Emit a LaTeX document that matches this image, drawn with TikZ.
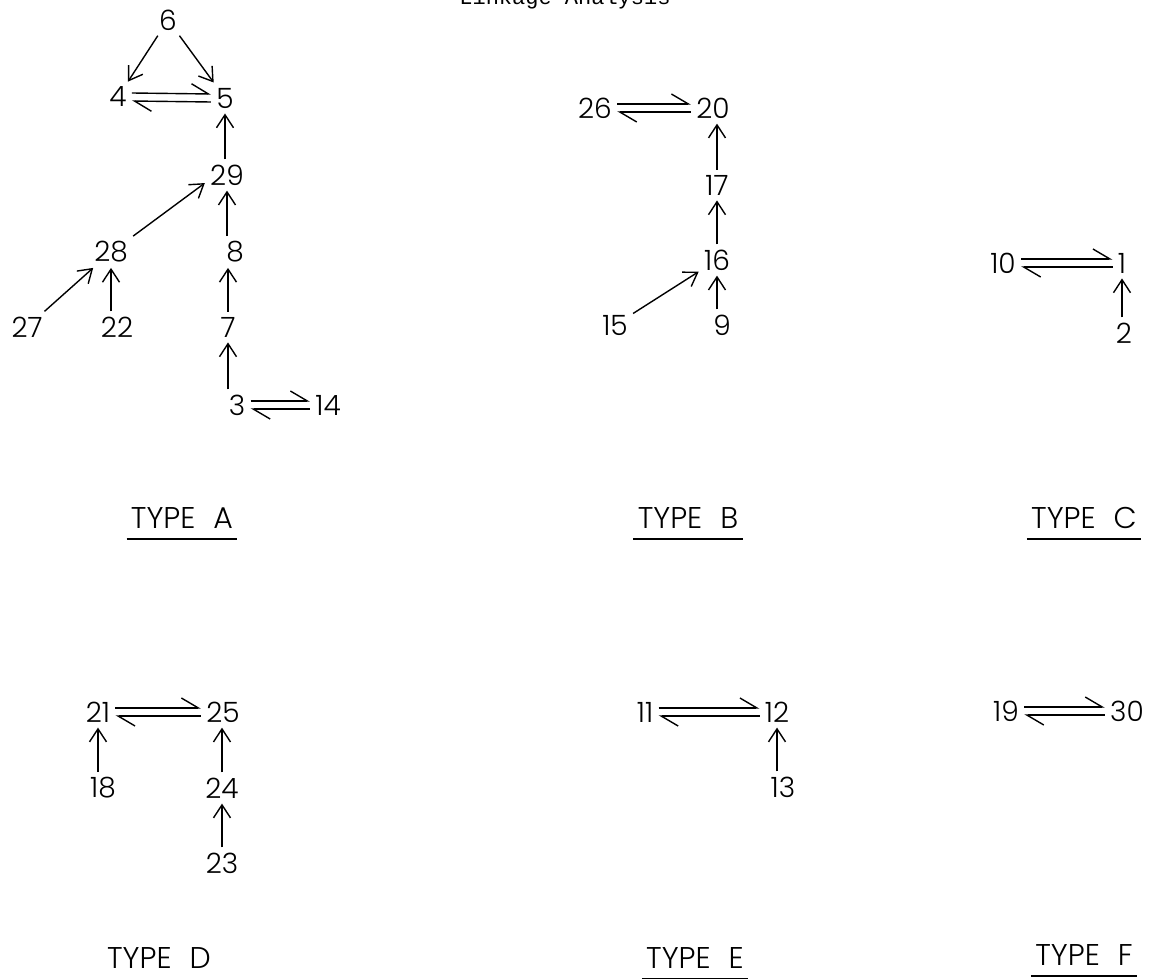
\documentclass[tikz,border=0pt]{standalone}
\usepackage{fontspec}
\setmainfont{Poppins Light}
\newfontfamily\titlefont{Liberation Mono}
\usepackage{tikz}
\usetikzlibrary{arrows.meta}
\tikzset{
  num/.style={inner sep=2.5pt, font=\fontsize{14}{16}\selectfont},
  typelabel/.style={inner xsep=2pt, inner ysep=1pt, font=\fontsize{15}{17}\selectfont},
  wire/.style={-{Straight Barb[length=6.5pt,width=8.5pt]}, line width=0.7pt},
  harpoon/.style={-{Straight Barb[left,length=8.5pt,width=10pt]}, line width=0.7pt},
  underline/.style={line width=0.8pt}
}
% two half arrows between a pair of nodes
\newcommand{\equil}[2]{%
  \draw[harpoon] ([yshift=2pt]#1.east) -- ([yshift=2pt]#2.west);
  \draw[harpoon] ([yshift=-2pt]#2.west) -- ([yshift=-2pt]#1.east);
}
\newcommand{\typename}[1]{TYPE\hspace{9pt}#1}

\begin{document}
\begin{tikzpicture}[x=0.5pt,y=-0.5pt]
  \useasboundingbox (0,0) rectangle (1158,979);
  \begin{scope}
    \clip (0,0) rectangle (1158,979);
    \node[anchor=base, font=\titlefont\fontsize{11}{13}\selectfont] (title) at (565,5) {Linkage Analysis};
  \end{scope}

  % type A
  \node[num] (n6) at (168,20) {6};
  \node[num] (n4) at (118,97) {4};
  \node[num] (n5) at (225,98) {5};
  \node[num] (n29) at (227,175) {29};
  \node[num] (n28) at (111,252) {28};
  \node[num] (n8) at (235,252) {8};
  \node[num] (n27) at (27,327) {27};
  \node[num] (n22) at (117,327) {22};
  \node[num] (n7) at (228,327) {7};
  \node[num] (n3) at (237,405) {3};
  \node[num] (n14) at (328,405) {14};
  \draw[wire] (n6) -- (n4);
  \draw[wire] (n6) -- (n5);
  \equil{n4}{n5}
  \draw[wire] (n29.north -| n5) -- (n5.south);
  \draw[wire] (n28.north east) -- (n29.200);
  \draw[wire] (n8.north -| n29) -- (n29.south);
  \draw[wire] (n27) -- (n28);
  \draw[wire] (n22.north -| n28.south) -- (n28.south);
  \draw[wire] (n7.north) -- (n8.south -| n7);
  \draw[wire] (n3.north -| n7) -- (n7.south);
  \equil{n3}{n14}

  % type B
  \node[num] (n26) at (595,108) {26};
  \node[num] (n20) at (713,108) {20};
  \node[num] (n17) at (717,185) {17};
  \node[num] (n16) at (717,260) {16};
  \node[num] (n15) at (615,325) {15};
  \node[num] (n9) at (722,325) {9};
  \equil{n26}{n20}
  \draw[wire] (n17.north) -- (n20.south -| n17);
  \draw[wire] (n16.north) -- (n17.south);
  \draw[wire] (n15) -- (n16);
  \draw[wire] (n9.north -| n16) -- (n16.south);

  % type C
  \node[num] (n10) at (1003,263) {10};
  \node[num] (n1) at (1122,263) {1};
  \node[num] (n2) at (1124,333) {2};
  \equil{n10}{n1}
  \draw[wire] (n2.north -| n1) -- (n1.south);

  % type D
  \node[num] (n21) at (98,712) {21};
  \node[num] (n25) at (223,712) {25};
  \node[num] (n18) at (103,788) {18};
  \node[num] (n24) at (222,788) {24};
  \node[num] (n23) at (222,863) {23};
  \equil{n21}{n25}
  \draw[wire] (n18.north -| n21) -- (n21.south);
  \draw[wire] (n24.north) -- (n25.south -| n24);
  \draw[wire] (n23.north) -- (n24.south);

  % type E
  \node[num] (n11) at (645,712) {11};
  \node[num] (n12) at (777,712) {12};
  \node[num] (n13) at (783,787) {13};
  \equil{n11}{n12}
  \draw[wire] (n13.north -| n12) -- (n12.south);

  % type F
  \node[num] (n19) at (1006,711) {19};
  \node[num] (n30) at (1127,711) {30};
  \equil{n19}{n30}

  % labels
  \node[typelabel] (typeA) at (182,518) {\typename{A}};
  \node[typelabel] (typeB) at (688,518) {\typename{B}};
  \node[typelabel] (typeC) at (1084,518) {\typename{C}};
  \node[typelabel] (typeD) at (159,958) {\typename{D}};
  \node[typelabel] (typeE) at (695,958) {\typename{E}};
  \node[typelabel] (typeF) at (1084,955) {\typename{F}};
  \foreach \t in {typeA,typeB,typeC,typeE,typeF}
    \draw[underline] ([yshift=-4pt]\t.south west) -- ([yshift=-4pt]\t.south east);
\end{tikzpicture}
\end{document}
